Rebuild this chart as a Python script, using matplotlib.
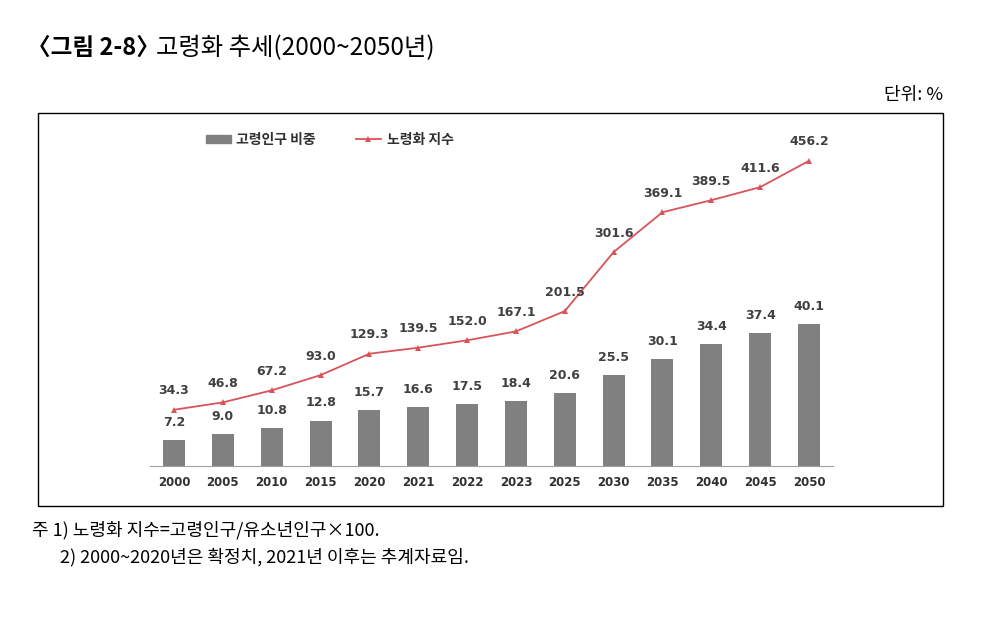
import matplotlib.pyplot as plt
from matplotlib.patches import Rectangle
from matplotlib.lines import Line2D

plt.rcParams['font.family'] = ['Noto Sans CJK KR', 'DejaVu Sans']

years = ['2000', '2005', '2010', '2015', '2020', '2021', '2022', '2023',
         '2025', '2030', '2035', '2040', '2045', '2050']
elderly_share = [7.2, 9.0, 10.8, 12.8, 15.7, 16.6, 17.5, 18.4,
                 20.6, 25.5, 30.1, 34.4, 37.4, 40.1]
aging_index = [34.3, 46.8, 67.2, 93.0, 129.3, 139.5, 152.0, 167.1,
               201.5, 301.6, 369.1, 389.5, 411.6, 456.2]

W, H = 988, 618
fig = plt.figure(figsize=(W / 100, H / 100), dpi=100)

# axes placed in pixel terms
left, right, top, bottom = 149.6, 833.4, 130, 466
ax = fig.add_axes([left / W, 1 - bottom / H, (right - left) / W, (bottom - top) / H])
ax2 = ax.twinx()

x = range(len(years))
ax.bar(x, elderly_share, width=0.45, color='#808080', zorder=2)
ax.set_xlim(-0.5, len(years) - 0.5)
ax.set_ylim(0, (bottom - top) / 3.55)

ax2.plot(x, aging_index, color='#d9535a', lw=1.3, marker='^', ms=4.5,
         markeredgewidth=0, zorder=3)
ax2.set_ylim(-36 / 0.59, (430 - top) / 0.59)

lab = dict(fontsize=9, fontweight='bold', color='#404040', ha='center',
           family=['DejaVu Sans'])
for i, v in enumerate(elderly_share):
    ax.annotate(f'{v:.1f}', (i, v), xytext=(0, 8), textcoords='offset points',
                va='bottom', **lab)
for i, v in enumerate(aging_index):
    ax2.annotate(f'{v:.1f}', (i, v), xytext=(0, 9), textcoords='offset points',
                 va='bottom', **lab)

ax.set_xticks(list(x))
ax.set_xticklabels(years, fontsize=8.5, fontweight='bold', color='#303030',
                   family=['DejaVu Sans'])
ax.tick_params(axis='x', length=0, pad=7)
ax.tick_params(axis='y', left=False, labelleft=False)
ax2.tick_params(axis='y', right=False, labelright=False)
for a in (ax, ax2):
    for s in ['top', 'left', 'right']:
        a.spines[s].set_visible(False)
ax.spines['bottom'].set_color('#a0a0a0')
ax2.spines['bottom'].set_visible(False)

handles = [Rectangle((0, 0), 1, 1, color='#808080'),
           Line2D([], [], color='#d9535a', lw=1.3, marker='^', ms=4.5,
                  markeredgewidth=0)]
fig.legend(handles, ['고령인구 비중', '노령화 지수'], ncol=2, frameon=False,
           loc='center left', bbox_to_anchor=(193 / W, 1 - 140 / H),
           prop={'size': 10, 'weight': 'bold'}, handlelength=1.8,
           handleheight=0.55, handletextpad=0.4, columnspacing=2.9,
           labelcolor='#303030')

# outer frame
fig.patches.append(Rectangle((38 / W, 1 - 506 / H), (943 - 38) / W, (506 - 113) / H,
                             transform=fig.transFigure, fill=False,
                             edgecolor='black', lw=1))

fig.text(27 / W, 1 - 48 / H, '〈그림 2-8〉', fontsize=17, fontweight='bold',
         va='center', ha='left')
fig.text(156 / W, 1 - 48 / H, '고령화 추세(2000~2050년)', fontsize=17.5,
         va='center', ha='left')
fig.text(943 / W, 1 - 95 / H, '단위: %', fontsize=13, va='center', ha='right')
fig.text(32 / W, 1 - 530 / H, '주 1) 노령화 지수=고령인구/유소년인구×100.',
         fontsize=13, va='center', ha='left')
fig.text(60 / W, 1 - 557 / H, '2) 2000~2020년은 확정치, 2021년 이후는 추계자료임.',
         fontsize=13, va='center', ha='left')

fig.savefig('out.png', dpi=100)
